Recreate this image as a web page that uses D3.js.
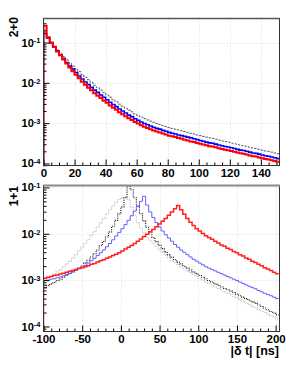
<!DOCTYPE html>
<html><head><meta charset="utf-8">
<script src="https://cdn.jsdelivr.net/npm/d3@7"></script>
<style>html,body{margin:0;padding:0;background:#fff;}svg{display:block;}</style>
</head><body><svg id="c" width="299" height="367"></svg>
<script>
// ---------- data ----------
const topBinStart = 0, topBinWidth = 2;      // ns
const topRed = [0.26,0.135,0.100,0.078,0.060,0.048,0.038,0.030,0.024,0.0195,
  0.0158,0.0129,0.0107,0.0089,0.0076,0.0065,0.0055,0.0048,0.0042,0.0036,
  0.0032,0.00275,0.0024,0.00214,0.00186,0.00166,0.00148,0.00132,0.00120,0.00107,
  0.00098,0.00089,0.00081,0.00076,0.00071,0.00066,0.00062,0.00059,0.00055,0.00052,
  0.00049,0.00047,0.00045,0.00043,0.00041,0.00039,0.00037,0.00035,0.00034,0.00032,
  0.00031,0.000295,0.000282,0.000269,0.000263,0.000251,0.000240,0.000229,0.000219,0.000214,
  0.000204,0.000195,0.000186,0.000178,0.000174,0.000166,0.000158,0.000151,0.000148,0.000141,
  0.000135,0.000129,0.000126,0.000120,0.000115,0.000110];
const topBlue = [0.17,0.129,0.098,0.078,0.062,0.049,0.040,0.032,0.026,0.0219,
  0.018,0.0148,0.0124,0.0105,0.0090,0.0077,0.0066,0.0058,0.0050,0.0044,
  0.0038,0.0033,0.0029,0.00257,0.00224,0.0020,0.00178,0.00158,0.00145,0.00129,
  0.00117,0.00107,0.00098,0.00091,0.00085,0.00079,0.00074,0.00071,0.00066,0.00063,
  0.00059,0.00056,0.00054,0.00051,0.00049,0.00047,0.00045,0.00043,0.00041,0.00039,
  0.00037,0.000355,0.000339,0.000324,0.000316,0.000302,0.000288,0.000275,0.000263,0.000257,
  0.000245,0.000234,0.000224,0.000214,0.000209,0.000200,0.000191,0.000182,0.000178,0.000170,
  0.000162,0.000155,0.000151,0.000145,0.000138,0.000132];
const topGray = [0.16,0.126,0.098,0.079,0.065,0.054,0.045,0.037,0.031,0.026,
  0.0224,0.019,0.0162,0.0138,0.0120,0.0102,0.0087,0.0076,0.0066,0.0058,
  0.0050,0.0044,0.0038,0.0034,0.00295,0.00263,0.00234,0.00209,0.00191,0.00170,
  0.00155,0.00141,0.00129,0.00120,0.00112,0.00105,0.00098,0.00093,0.00087,0.00083,
  0.00078,0.00074,0.00071,0.00068,0.00065,0.00062,0.00059,0.00056,0.00054,0.00051,
  0.00049,0.00047,0.00045,0.00043,0.00042,0.00040,0.00038,0.00036,0.00035,0.00034,
  0.00032,0.00031,0.000295,0.000282,0.000275,0.000263,0.000251,0.000240,0.000234,0.000224,
  0.000214,0.000204,0.000200,0.000191,0.000182,0.000174];

const botBinStart = -100, botBinWidth = 4;   // ns
const botRed = [1.10e-3,1.15e-3,1.20e-3,1.26e-3,1.29e-3,1.35e-3,1.41e-3,1.48e-3,1.55e-3,1.62e-3,
  1.70e-3,1.78e-3,1.86e-3,1.95e-3,2.04e-3,2.19e-3,2.29e-3,2.45e-3,2.63e-3,2.75e-3,
  2.95e-3,3.16e-3,3.39e-3,3.63e-3,3.89e-3,4.27e-3,4.68e-3,5.13e-3,5.62e-3,6.17e-3,
  6.92e-3,7.76e-3,8.71e-3,9.77e-3,1.10e-2,1.23e-2,1.41e-2,1.62e-2,1.86e-2,2.14e-2,
  2.51e-2,2.95e-2,3.47e-2,4.07e-2,3.31e-2,2.63e-2,2.14e-2,1.78e-2,1.51e-2,1.29e-2,
  1.15e-2,1.02e-2,9.12e-3,8.32e-3,7.59e-3,6.92e-3,6.31e-3,5.75e-3,5.37e-3,4.90e-3,
  4.57e-3,4.17e-3,3.89e-3,3.55e-3,3.31e-3,3.02e-3,2.82e-3,2.57e-3,2.40e-3,2.19e-3,
  2.04e-3,1.86e-3,1.74e-3,1.62e-3,1.48e-3,1.38e-3];
const botBlue = [9.8e-4,1.00e-3,1.05e-3,1.07e-3,1.12e-3,1.17e-3,1.23e-3,1.32e-3,1.41e-3,1.51e-3,
  1.62e-3,1.78e-3,1.91e-3,2.09e-3,2.34e-3,2.63e-3,2.95e-3,3.39e-3,3.89e-3,4.47e-3,
  5.25e-3,6.17e-3,7.41e-3,8.91e-3,1.07e-2,1.29e-2,1.58e-2,1.95e-2,2.45e-2,3.09e-2,
  3.89e-2,5.01e-2,6.46e-2,4.17e-2,2.95e-2,2.24e-2,1.74e-2,1.41e-2,1.15e-2,9.55e-3,
  8.13e-3,6.92e-3,5.89e-3,5.13e-3,4.47e-3,3.98e-3,3.55e-3,3.16e-3,2.82e-3,2.57e-3,
  2.34e-3,2.14e-3,1.95e-3,1.82e-3,1.70e-3,1.58e-3,1.48e-3,1.38e-3,1.29e-3,1.20e-3,
  1.12e-3,1.05e-3,9.8e-4,9.1e-4,8.5e-4,7.9e-4,7.4e-4,6.9e-4,6.5e-4,6.0e-4,
  5.6e-4,5.2e-4,4.9e-4,4.6e-4,4.3e-4,4.0e-4];
const botBlack = [6.9e-4,7.6e-4,8.3e-4,8.9e-4,9.8e-4,1.05e-3,1.15e-3,1.26e-3,1.38e-3,1.51e-3,
  1.66e-3,1.82e-3,2.04e-3,2.34e-3,2.69e-3,3.16e-3,3.72e-3,4.47e-3,5.50e-3,6.76e-3,
  8.51e-3,1.10e-2,1.45e-2,1.95e-2,2.69e-2,3.80e-2,6.0e-2,0.105,0.089,0.060,
  0.040,0.027,0.019,0.0138,0.0105,8.32e-3,6.76e-3,5.62e-3,4.79e-3,4.07e-3,
  3.55e-3,3.09e-3,2.75e-3,2.45e-3,2.24e-3,2.00e-3,1.82e-3,1.66e-3,1.51e-3,1.38e-3,
  1.26e-3,1.15e-3,1.07e-3,9.8e-4,9.1e-4,8.3e-4,7.8e-4,7.1e-4,6.6e-4,6.2e-4,
  5.8e-4,5.4e-4,5.0e-4,4.6e-4,4.3e-4,4.0e-4,3.7e-4,3.4e-4,3.2e-4,2.9e-4,
  2.7e-4,2.5e-4,2.3e-4,2.1e-4,1.95e-4,1.78e-4];
const botGray = [1.00e-3,1.10e-3,1.20e-3,1.35e-3,1.51e-3,1.70e-3,1.95e-3,2.24e-3,2.57e-3,3.02e-3,
  3.55e-3,4.27e-3,5.13e-3,6.17e-3,7.41e-3,9.12e-3,1.12e-2,1.38e-2,1.70e-2,2.14e-2,
  2.69e-2,3.31e-2,3.98e-2,4.79e-2,5.50e-2,6.03e-2,6.17e-2,5.50e-2,3.80e-2,2.51e-2,
  1.74e-2,1.32e-2,1.05e-2,8.51e-3,7.24e-3,6.17e-3,5.25e-3,4.57e-3,3.98e-3,3.47e-3,
  3.09e-3,2.69e-3,2.40e-3,2.14e-3,1.95e-3,1.74e-3,1.58e-3,1.45e-3,1.32e-3,1.20e-3,
  1.10e-3,1.00e-3,9.1e-4,8.5e-4,7.8e-4,7.2e-4,6.6e-4,6.2e-4,5.6e-4,5.2e-4,
  4.9e-4,4.5e-4,4.2e-4,3.8e-4,3.5e-4,3.2e-4,3.0e-4,2.75e-4,2.57e-4,2.34e-4,
  2.19e-4,2.00e-4,1.86e-4,1.70e-4,1.58e-4,1.45e-4];

const topXTicks = [0,20,40,60,80,100,120,140];
const botXTicks = [-100,-50,0,50,100,150,200];
const yTickExps = [-1,-2,-3,-4];
const topTitle = "2+0", botTitle = "1+1", xTitle = "|\u03B4 t| [ns]";

// ---------- drawing ----------
const FONT = '"Liberation Sans", Arial, Helvetica, sans-serif';
const svg = d3.select('#c');

function drawPanel(o) {
  const x = d3.scaleLinear().domain(o.xDomain).range([o.left, o.right]);
  const y = d3.scaleLog().domain(o.yDomain).range([o.bottom, o.top]);
  const g = svg.append('g');
  const cid = 'clip' + o.name;
  svg.append('clipPath').attr('id', cid).append('rect')
    .attr('x', o.left).attr('y', o.top).attr('width', o.right - o.left).attr('height', o.bottom - o.top);

  // grid
  const majY = yTickExps.map(e => Math.pow(10, e));
  g.append('g').selectAll('line').data(o.xTicks.filter(d => d > o.xDomain[0])).join('line')
    .attr('x1', d => Math.round(x(d)) + 0.5).attr('x2', d => Math.round(x(d)) + 0.5)
    .attr('y1', o.top).attr('y2', o.bottom)
    .attr('stroke', '#d4d4d4').attr('stroke-width', 0.8).attr('stroke-dasharray', '1,2');
  g.append('g').selectAll('line').data(majY).join('line')
    .attr('y1', d => Math.round(y(d)) + 0.5).attr('y2', d => Math.round(y(d)) + 0.5)
    .attr('x1', o.left).attr('x2', o.right)
    .attr('stroke', '#d4d4d4').attr('stroke-width', 0.8).attr('stroke-dasharray', '1,2');

  // histograms
  const hg = g.append('g').attr('clip-path', `url(#${cid})`);
  const line = d3.line().x(d => x(d[0])).y(d => y(d[1])).curve(d3.curveStepAfter);
  o.series.forEach(s => {
    const pts = [[o.binStart, o.yDomain[0]]];
    s.values.forEach((v, i) => pts.push([o.binStart + i * o.binWidth, v]));
    pts.push([o.binStart + s.values.length * o.binWidth, s.values[s.values.length - 1]]);
    hg.append('path').attr('d', line(pts)).attr('fill', 'none')
      .attr('stroke', s.color).attr('stroke-width', s.width)
      .attr('stroke-dasharray', s.dash || null);
  });

  // axes
  const minorY = [];
  for (let e = -5; e <= 0; e++) for (let k = 2; k <= 9; k++) {
    const v = k * Math.pow(10, e);
    if (v > o.yDomain[0] && v < o.yDomain[1]) minorY.push(v);
  }
  const styleAxis = sel => { sel.select('.domain').remove(); sel.selectAll('line').attr('stroke', '#000'); };
  g.append('g').attr('transform', `translate(${o.left},0)`)
    .call(d3.axisLeft(y).tickValues(minorY).tickSize(-3).tickFormat('')).call(styleAxis);
  const ayM = g.append('g').attr('transform', `translate(${o.left},0)`)
    .call(d3.axisLeft(y).tickValues(majY).tickSize(-6).tickSizeOuter(0).tickPadding(3).tickFormat(() => '10'))
    .call(styleAxis);
  ayM.selectAll('.tick text')
    .attr('font-family', FONT).attr('font-weight', 'bold').attr('font-size', '11px').attr('fill', '#000')
    .each(function (d) {
      d3.select(this).append('tspan').attr('dy', '-0.42em').attr('font-size', '7.5px')
        .text(String(Math.round(Math.log10(d))));
    });

  g.append('g').attr('transform', `translate(0,${o.bottom})`)
    .call(d3.axisBottom(x).tickValues(o.xMinor).tickSize(-3).tickFormat('')).call(styleAxis);
  g.append('g').attr('transform', `translate(0,${o.bottom})`)
    .call(d3.axisBottom(x).tickValues(o.xTicks).tickSize(-6).tickSizeOuter(0).tickPadding(3.5).tickFormat(d => String(d)))
    .call(styleAxis)
    .selectAll('.tick text')
    .attr('font-family', FONT).attr('font-weight', 'bold').attr('font-size', '11.5px').attr('fill', '#000');

  // frame
  g.append('rect').attr('x', o.left).attr('y', o.top)
    .attr('width', o.right - o.left).attr('height', o.bottom - o.top)
    .attr('fill', 'none').attr('stroke', '#333').attr('stroke-width', 1);
  g.append('line').attr('x1', o.left).attr('x2', o.right + 0.5)
    .attr('y1', o.top).attr('y2', o.top)
    .attr('stroke', o.topColor).attr('stroke-width', o.topWidth);

  // y title
  g.append('text').attr('transform', `translate(${o.titleX},${o.titleY}) rotate(-90)`)
    .attr('text-anchor', 'end').attr('font-family', FONT).attr('font-weight', 'bold')
    .attr('font-size', '12px').attr('fill', '#000').text(o.title);
}

drawPanel({
  name: 'top', left: 43.5, right: 279.5, top: 18.5, bottom: 165.5,
  xDomain: [0, 152], yDomain: [8.9e-5, 0.394],
  xTicks: topXTicks, xMinor: d3.range(5, 152, 5).filter(v => v % 20 !== 0),
  binStart: topBinStart, binWidth: topBinWidth,
  title: topTitle, titleX: 17.5, titleY: 17, topColor: '#555', topWidth: 1.3,
  series: [
    { values: topGray, color: '#5a5a5a', width: 1, dash: '2.5,1.5' },
    { values: topBlue, color: '#0000ff', width: 1.6 },
    { values: topRed, color: '#ff0000', width: 2 }
  ]
});

drawPanel({
  name: 'bot', left: 43.5, right: 279.5, top: 185.5, bottom: 331.5,
  xDomain: [-100, 205], yDomain: [7.8e-5, 0.110],
  xTicks: botXTicks, xMinor: d3.range(-90, 205, 10).filter(v => v % 50 !== 0),
  binStart: botBinStart, binWidth: botBinWidth,
  title: botTitle, titleX: 17.5, titleY: 186, topColor: '#8a8a8a', topWidth: 2,
  series: [
    { values: botGray, color: '#bdbdbd', width: 1.1, dash: '1,1' },
    { values: botBlack, color: '#111', width: 1.1, dash: '1,1.2' },
    { values: botBlue, color: '#6060ff', width: 1 },
    { values: botRed, color: '#ff2020', width: 1.5 }
  ]
});

svg.append('text').attr('x', 279).attr('y', 355).attr('text-anchor', 'end')
  .attr('font-family', FONT).attr('font-weight', 'bold').attr('font-size', '12.5px').attr('fill', '#000')
  .text(xTitle);
</script>
</body></html>
